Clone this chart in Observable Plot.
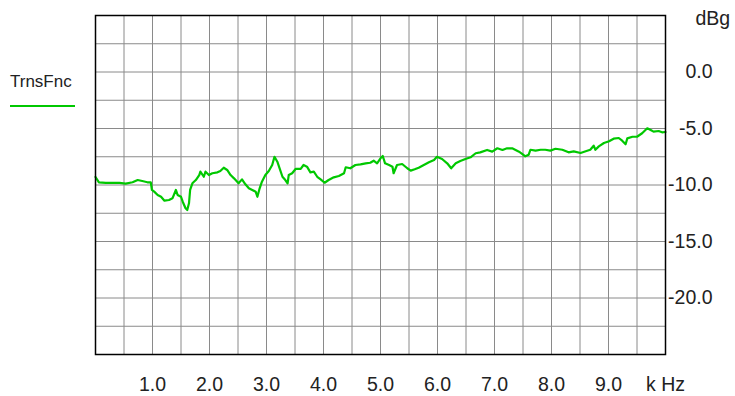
<!DOCTYPE html>
<html>
<head>
<meta charset="utf-8">
<script src="https://cdn.jsdelivr.net/npm/d3@7"></script>
<script src="https://cdn.jsdelivr.net/npm/@observablehq/plot@0.6"></script>
<style>
  html, body { margin: 0; padding: 0; background: #fff; }
  #wrap { position: relative; width: 735px; height: 396px; font-family: "Liberation Sans", Arial, sans-serif; }
  #legend { position: absolute; left: 10px; top: 72px; font-size: 17px; color: #222; line-height: 20px; }
  #legend .swatch { width: 65px; height: 2px; background: #00c800; margin-top: 13px; }
</style>
</head>
<body>
<div id="wrap">
  <div id="legend"><div>TrnsFnc</div><div class="swatch"></div></div>
</div>
<script>
const seriesName = "TrnsFnc";
const freqKHz = [0.00,0.06,0.18,0.30,0.42,0.53,0.65,0.74,0.82,0.91,0.97,0.99,1.03,1.09,1.15,1.21,1.29,1.35,1.41,1.44,1.50,1.53,1.58,1.61,1.64,1.66,1.70,1.76,1.82,1.84,
1.90,1.93,1.99,2.05,2.14,2.19,2.25,2.31,2.37,2.43,2.51,2.57,2.63,2.69,2.75,2.81,2.84,2.88,2.92,2.98,3.04,3.10,3.14,3.19,3.23,3.28,3.33,3.37,3.39,3.45,3.51,3.60,3.65,3.71,
3.77,3.83,3.89,3.95,4.02,4.09,4.18,4.27,4.36,4.39,4.47,4.56,4.65,4.74,4.82,4.88,4.94,5.00,5.04,5.08,5.15,5.21,5.23,5.29,5.38,5.47,5.53,5.60,
5.67,5.76,5.85,5.94,5.99,6.08,6.17,6.24,6.32,6.40,6.49,6.58,6.67,6.75,6.87,6.96,7.05,7.14,7.22,7.31,7.37,7.43,
7.49,7.54,7.60,7.63,7.72,7.81,7.89,7.98,8.07,8.19,8.30,8.39,8.51,8.60,8.68,8.74,8.77,8.83,8.92,9.01,9.09,9.18,9.24,9.30,9.33,9.42,9.50,9.59,9.68,9.74,9.79,9.88,9.94,10.0];
const gainDb = [-9.29,-9.76,-9.82,-9.80,-9.82,-9.88,-9.76,-9.56,-9.65,-9.76,-9.76,-10.44,-10.59,-10.88,-11.04,-11.39,-11.33,-11.18,-10.44,-10.88,-11.04,-11.48,-12.06,-12.21,-11.62,-10.44,-9.85,-9.56,-9.12,-8.82,
-9.27,-8.82,-9.12,-8.96,-8.88,-8.76,-8.47,-8.67,-9.12,-9.41,-9.85,-9.50,-9.94,-10.29,-10.44,-10.59,-11.04,-10.29,-9.71,-9.12,-8.76,-8.23,-7.50,-7.94,-8.52,-9.27,-9.56,-9.85,-9.12,-8.96,-8.58,-8.58,-8.23,-8.38,
-8.88,-8.82,-9.27,-9.50,-9.80,-9.56,-9.32,-9.20,-8.96,-8.43,-8.52,-8.23,-8.17,-8.08,-8.03,-7.85,-8.08,-7.64,-7.43,-8.08,-8.23,-8.38,-8.96,-8.23,-8.14,-8.52,-8.73,-8.61,
-8.47,-8.23,-7.99,-7.79,-7.50,-7.70,-8.08,-8.52,-8.08,-7.88,-7.70,-7.55,-7.19,-7.11,-6.90,-7.05,-6.75,-6.90,-6.75,-6.75,-6.90,-7.05,
-7.26,-7.46,-7.32,-6.88,-6.96,-6.88,-6.88,-6.96,-6.79,-6.88,-7.11,-7.02,-7.17,-7.02,-6.88,-6.52,-6.88,-6.58,-6.28,-6.13,-5.90,-5.84,-6.08,-6.40,-5.87,-5.73,-5.73,-5.42,-4.98,-5.13,-5.28,-5.22,-5.34,-5.31];
const xGridValues = [0.5,1,1.5,2,2.5,3,3.5,4,4.5,5,5.5,6,6.5,7,7.5,8,8.5,9,9.5];
const yGridValues = [2.5,0,-2.5,-5,-7.5,-10,-12.5,-15,-17.5,-20,-22.5];
const xTickValues = [1,2,3,4,5,6,7,8,9,10];
const xTickLabels = ["1.0","2.0","3.0","4.0","5.0","6.0","7.0","8.0","9.0","k Hz"];
const yTickValues = [0,-5,-10,-15,-20];
const yTickLabels = ["0.0","-5.0","-10.0","-15.0","-20.0"];
const yUnitLabel = "dBg";

const data = freqKHz.map((f, i) => ({f, g: gainDb[i]}));
const xTicks = xTickValues.map((v, i) => ({v, t: xTickLabels[i]}));
const yTicks = yTickValues.map((v, i) => ({v, t: yTickLabels[i]}));

const chart = Plot.plot({
  width: 735,
  height: 396,
  marginLeft: 95,
  marginRight: 70,
  marginTop: 15,
  marginBottom: 42,
  style: {fontFamily: '"Liberation Sans", Arial, sans-serif', background: "transparent", color: "#222"},
  x: {domain: [0, 10], axis: null},
  y: {domain: [-25, 5], axis: null},
  marks: [
    Plot.gridX(xGridValues, {stroke: "#8a8a8a", strokeOpacity: 1, strokeWidth: 1}),
    Plot.gridY(yGridValues, {stroke: "#8a8a8a", strokeOpacity: 1, strokeWidth: 1}),
    Plot.line(data, {x: "f", y: "g", stroke: "#00c800", strokeWidth: 2.2}),
    Plot.frame({stroke: "#000", strokeWidth: 1.5}),
    Plot.text(xTicks, {x: "v", text: "t", frameAnchor: "bottom", dy: 36, fontSize: 19.5, fill: "#222"}),
    Plot.text(yTicks, {y: "v", text: "t", frameAnchor: "right", dx: 47, textAnchor: "end", fontSize: 19.5, fill: "#222"}),
    Plot.text([yUnitLabel], {frameAnchor: "top-right", dx: 30, dy: -4, textAnchor: "start", fontSize: 19.5, fill: "#222"})
  ]
});
chart.style.position = "absolute";
chart.style.left = "0";
chart.style.top = "0";
document.getElementById("wrap").prepend(chart);
</script>
</body>
</html>
